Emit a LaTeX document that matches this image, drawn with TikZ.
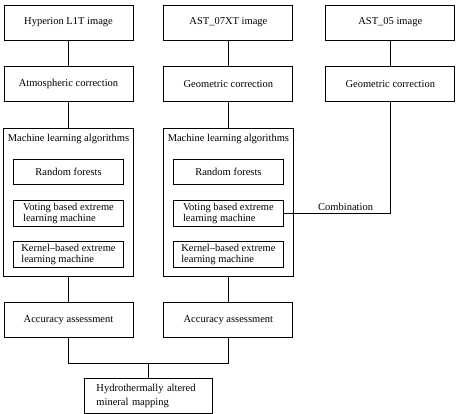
\documentclass[tikz,border=0pt]{standalone}
\usepackage{fontspec}
\setmainfont{Liberation Serif}
\usetikzlibrary{positioning}
\usetikzlibrary{calc}
\tikzset{
    block/.style={
           rectangle,
           draw=black, line width=0.9pt,
           minimum width=129pt,
           minimum height=35pt,
           inner sep=2pt,
           text centered,
           },
    outerblock/.style={
           rectangle,
           draw=black, line width=0.9pt,
           minimum width=130pt,
           minimum height=148pt,
           inner sep=0pt,
           },
    innerblock/.style={
           rectangle,
           draw=black, line width=0.9pt,
           minimum width=110pt,
           minimum height=25pt,
           inner sep=1pt,
           text centered,
           },
    innerblock2/.style={
           rectangle,
           draw=black, line width=0.9pt,
           minimum width=110pt,
           minimum height=26pt,
           inner xsep=2pt, inner ysep=1pt,
           align=left,
           font=\fontsize{10.5}{11.5}\selectfont,
           },
    mapblock/.style={
           rectangle,
           draw=black, line width=0.9pt,
           minimum width=128pt,
           minimum height=35pt,
           inner xsep=12pt, inner ysep=2pt,
           text width=104pt,
           align=left,
           font=\fontsize{10.5}{14}\selectfont,
           },
    frameless/.style={
           inner sep=1pt,
           text centered,
           },
}

\begin{document}
\begin{tikzpicture}[x=1pt, y=1pt, node distance=26pt and 30pt,
                    font=\fontsize{10.5}{12}\selectfont]
	\useasboundingbox (0,0) rectangle (458,-414);

	% Hyperion branch
	\node[block] (hyp) at (68.5,-22.5) {Hyperion L1T image};
	\node[block, below=of hyp] (atm) {Atmospheric correction};
	\node[outerblock, below=of atm] (ml1) {};
	\node[frameless, below=5pt of ml1.north] (mlt1) {Machine learning algorithms};
	\node[innerblock, below=31pt of ml1.north] (rf1) {Random forests};
	\node[innerblock2, below=15pt of rf1] (vel1) {Voting based extreme\\learning machine};
	\node[innerblock2, below=14pt of vel1] (kel1) {Kernel--based extreme\\learning machine};
	\node[block, below=25pt of ml1] (acc1) {Accuracy assessment};

	% AST_07XT branch
	\node[block, right=of hyp] (ast7) {AST\_07XT image};
	\node[block, below=of ast7] (geo7) {Geometric correction};
	\node[outerblock, below=of geo7] (ml2) {};
	\node[frameless, below=5pt of ml2.north] (mlt2) {Machine learning algorithms};
	\node[innerblock, below=31pt of ml2.north] (rf2) {Random forests};
	\node[innerblock2, below=15pt of rf2] (vel2) {Voting based extreme\\learning machine};
	\node[innerblock2, below=14pt of vel2] (kel2) {Kernel--based extreme\\learning machine};
	\node[block, below=25pt of ml2] (acc2) {Accuracy assessment};

	% AST_05 branch
	\node[block, right=32pt of ast7] (ast5) {AST\_05 image};
	\node[block, below=of ast5] (geo5) {Geometric correction};

	% result
	\coordinate (accmid) at ($(acc1.south)!0.5!(acc2.south)$);
	\node[mapblock, below=40pt of accmid] (map) {Hydrothermally altered\\mineral mapping};
	\coordinate (join) at ([yshift=15pt]map.north);

	\path[-, line width=0.9pt]	(hyp) edge (atm)
								(atm) edge (ml1)
								(ml1) edge (acc1)
								(ast7) edge (geo7)
								(geo7) edge (ml2)
								(ml2) edge (acc2)
								(ast5) edge (geo5);

	\draw[line width=0.9pt] (geo5.south) |- (vel2.east)
		node[frameless, above, pos=0.71, yshift=2pt] (comb) {Combination};
	\draw[line width=0.9pt] (acc1.south) |- (join) -- (map.north);
	\draw[line width=0.9pt] (acc2.south) |- (join);

\end{tikzpicture}
\end{document}
